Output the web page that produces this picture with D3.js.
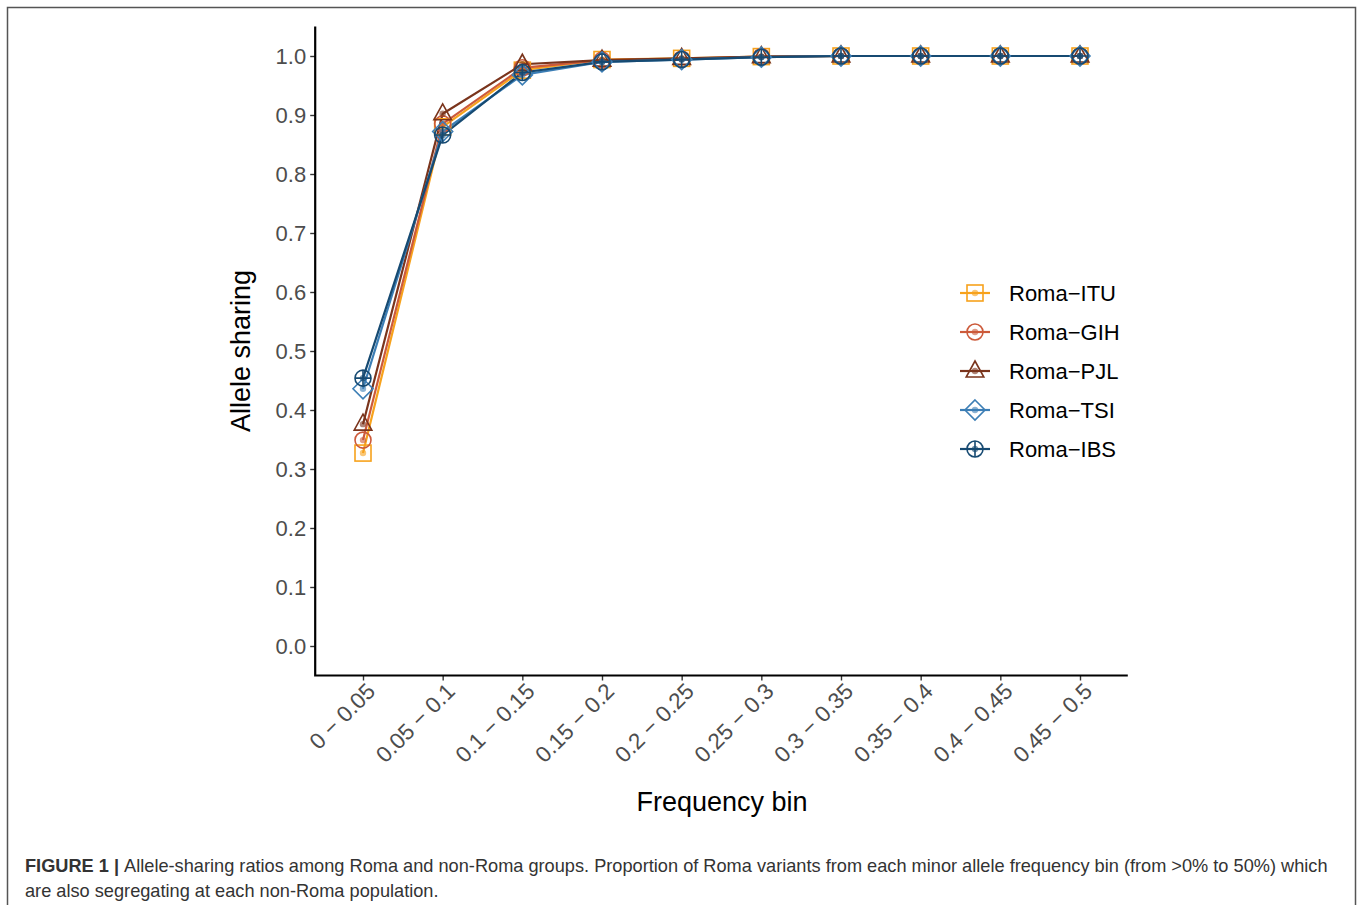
<!DOCTYPE html>
<html><head><meta charset="utf-8">
<script src="https://cdn.jsdelivr.net/npm/d3@7"></script>
<style>body{margin:0;background:#fff}svg{display:block}</style>
</head><body>
<svg id="c" width="1358" height="905"></svg>
<script>
const bins = ["0 \u2212 0.05","0.05 \u2212 0.1","0.1 \u2212 0.15","0.15 \u2212 0.2","0.2 \u2212 0.25","0.25 \u2212 0.3","0.3 \u2212 0.35","0.35 \u2212 0.4","0.4 \u2212 0.45","0.45 \u2212 0.5"];
const seriesNames = ["Roma\u2212ITU","Roma\u2212GIH","Roma\u2212PJL","Roma\u2212TSI","Roma\u2212IBS"];
const itu = [0.327,0.880,0.976,0.994,0.996,0.999,1.0,1.0,1.0,1.0];
const gih = [0.349,0.885,0.980,0.993,0.995,0.999,1.0,1.0,1.0,1.0];
const pjl = [0.376,0.902,0.986,0.993,0.996,0.999,1.0,1.0,1.0,1.0];
const tsi = [0.436,0.872,0.968,0.990,0.994,0.998,1.0,1.0,1.0,1.0];
const ibs = [0.454,0.866,0.972,0.990,0.994,0.998,1.0,1.0,1.0,1.0];
const yTicks = [0.0,0.1,0.2,0.3,0.4,0.5,0.6,0.7,0.8,0.9,1.0];
const colors = ["#F7A21C","#CC5A3A","#7A341C","#3C7EB5","#164A72"];
const shapes = ["square","circle","triangle","diamond","circleplus"];
const allSeries = [itu,gih,pjl,tsi,ibs];
const FONT = "Liberation Sans, Arial, sans-serif";

const svg = d3.select("#c");
svg.append("path").attr("d","M7.5,906 L7.5,7.5 L1355.5,7.5 L1355.5,906")
  .attr("fill","none").attr("stroke","#555").attr("stroke-width",1.5);

const x = d3.scalePoint().domain(bins).range([363,1080]);
const step = x.step();
const y = d3.scaleLinear().domain([-0.05,1.05]).range([675.5,26.5]);
const left = 363-0.6*step, right = 1080+0.6*step;

const gy = svg.append("g").attr("transform",`translate(${left},0)`)
  .call(d3.axisLeft(y).tickValues(yTicks).tickFormat(d3.format(".1f")).tickSize(5).tickPadding(4));
const gx = svg.append("g").attr("transform",`translate(0,675.5)`)
  .call(d3.axisBottom(x).tickSize(5).tickPadding(4));
[gy,gx].forEach(g=>{
  g.select(".domain").remove();
  g.selectAll(".tick line").attr("stroke","#333").attr("stroke-width",1.4);
  g.selectAll(".tick text").attr("fill","#4D4D4D").attr("font-family",FONT).attr("font-size",22);
});
gx.selectAll(".tick text").attr("font-size",22.5).attr("text-anchor","end").attr("dy",null)
  .attr("transform","translate(9,13) rotate(-45)").attr("y",0).attr("x",0).attr("dominant-baseline","middle");
svg.append("path").attr("d",`M${left},26.5 L${left},675.5 L${right},675.5`)
  .attr("fill","none").attr("stroke","#000").attr("stroke-width",2.2);

svg.append("text").attr("transform","translate(250,351) rotate(-90)").attr("text-anchor","middle")
  .attr("font-family",FONT).attr("font-size",27).text("Allele sharing");
svg.append("text").attr("x",722).attr("y",811).attr("text-anchor","middle")
  .attr("font-family",FONT).attr("font-size",27).text("Frequency bin");

function drawShape(g, shape, color){
  const s = 8;
  if(shape==="square") g.append("rect").attr("x",-s).attr("y",-s).attr("width",2*s).attr("height",2*s);
  else if(shape==="circle") g.append("circle").attr("r",s);
  else if(shape==="triangle") g.append("path").attr("d",`M0,${-s*1.25} L${s*1.1},${s*0.75} L${-s*1.1},${s*0.75} Z`);
  else if(shape==="diamond") g.append("path").attr("d",`M0,${-s*1.25} L${s*1.25},0 L0,${s*1.25} L${-s*1.25},0 Z`);
  else if(shape==="circleplus"){ g.append("circle").attr("r",s); g.append("path").attr("d",`M${-s},0 L${s},0 M0,${-s} L0,${s}`); }
  g.selectAll("rect,circle,path").attr("fill","none").attr("stroke",color).attr("stroke-width",1.6);
  g.append("circle").attr("r",3.2).attr("fill",color).attr("fill-opacity",0.6).attr("stroke","none");
}

const line = d3.line().x((d,i)=>x(bins[i])).y(d=>y(d));
allSeries.forEach((vals,si)=>{
  svg.append("path").datum(vals).attr("d",line).attr("fill","none")
    .attr("stroke",colors[si]).attr("stroke-width",2.2);
});
allSeries.forEach((vals,si)=>{
  vals.forEach((v,i)=>{
    const g = svg.append("g").attr("transform",`translate(${x(bins[i])},${y(v)})`);
    drawShape(g, shapes[si], colors[si]);
  });
});

const leg = svg.append("g");
seriesNames.forEach((n,i)=>{
  const yy = 293 + i*39;
  const g = leg.append("g").attr("transform",`translate(975,${yy})`);
  g.append("line").attr("x1",-15).attr("x2",15).attr("stroke",colors[i]).attr("stroke-width",2.2);
  drawShape(g, shapes[i], colors[i]);
  leg.append("text").attr("x",1009).attr("y",yy).attr("dy","0.36em")
    .attr("font-family",FONT).attr("font-size",22).text(n);
});

const cap = svg.append("g").attr("font-family",FONT).attr("font-size",18.2).attr("fill","#333");
const t1 = cap.append("text").attr("x",25).attr("y",872);
t1.append("tspan").attr("font-weight","bold").text("FIGURE 1 | ");
t1.append("tspan").text("Allele-sharing ratios among Roma and non-Roma groups. Proportion of Roma variants from each minor allele frequency bin (from >0% to 50%) which");
cap.append("text").attr("x",25).attr("y",897).text("are also segregating at each non-Roma population.");
</script>
</body></html>
